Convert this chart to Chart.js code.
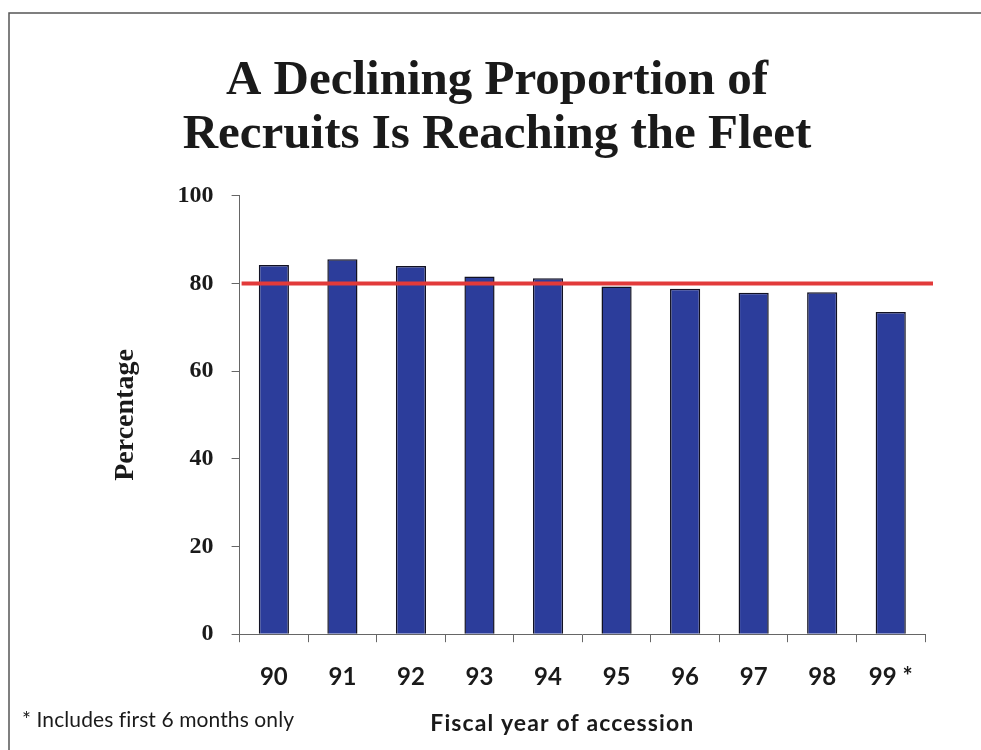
<!DOCTYPE html>
<html>
<head>
<meta charset="utf-8">
<title>A Declining Proportion of Recruits Is Reaching the Fleet</title>
<script src="https://cdn.jsdelivr.net/npm/chart.js@4.4.1/dist/chart.umd.min.js"></script>
<style>
  html, body { margin: 0; padding: 0; background: #ffffff; }
  canvas { display: block; }
</style>
</head>
<body>
<canvas id="chart" width="981" height="750"></canvas>
<script>
// Fiscal years of accession (FY99 covers the first six months only)
const fiscalYears = ['90', '91', '92', '93', '94', '95', '96', '97', '98', '99 *'];
// Percentage of recruits reaching the fleet
const reachingFleet = [84.2, 85.5, 84.0, 81.6, 81.2, 79.3, 78.8, 77.9, 78.0, 73.5];
// Reference level drawn as a red line across the plot
const benchmark = 80;
// Y axis range and step
const yMin = 0, yMax = 100, yStep = 20;

const titleLines = ['A Declining Proportion of', 'Recruits Is Reaching the Fleet'];
const yTitle = 'Percentage';
const xTitle = 'Fiscal year of accession';
const footnote = '* Includes first 6 months only';

const serif = "'Liberation Serif', 'Times New Roman', serif";
const sans = "Lato, 'Open Sans', sans-serif";

// Thin frame along the top and left edges of the page
const framePlugin = {
  id: 'frame',
  beforeDraw(chart) {
    const ctx = chart.ctx;
    ctx.save();
    ctx.fillStyle = '#ffffff';
    ctx.fillRect(0, 0, chart.width, chart.height);
    ctx.strokeStyle = '#555555';
    ctx.lineWidth = 1.5;
    ctx.beginPath();
    ctx.moveTo(chart.width, 13);
    ctx.lineTo(9, 13);
    ctx.lineTo(9, chart.height);
    ctx.stroke();
    ctx.restore();
  }
};

// Horizontal benchmark line drawn over the bars
const benchmarkPlugin = {
  id: 'benchmarkLine',
  afterDatasetsDraw(chart) {
    const { ctx, chartArea, scales } = chart;
    const y = scales.y.getPixelForValue(benchmark);
    ctx.save();
    ctx.strokeStyle = '#e23a3a';
    ctx.lineWidth = 4;
    ctx.beginPath();
    ctx.moveTo(chartArea.left + 2, y);
    ctx.lineTo(chartArea.right + 8, y);
    ctx.stroke();
    ctx.restore();
  }
};

// X axis title and footnote along the bottom edge
const bottomTextPlugin = {
  id: 'bottomText',
  afterDraw(chart) {
    const { ctx, chartArea } = chart;
    ctx.save();
    ctx.fillStyle = '#1a1a1a';
    ctx.textBaseline = 'alphabetic';
    ctx.font = 'bold 23px ' + sans;
    ctx.letterSpacing = '1.1px';
    ctx.textAlign = 'center';
    ctx.fillText(xTitle, (chartArea.left + chartArea.right) / 2 - 20, 731);
    ctx.font = '21px ' + sans;
    ctx.letterSpacing = '0.1px';
    ctx.textAlign = 'left';
    ctx.fillText(footnote, 22, 727);
    ctx.restore();
  }
};

new Chart(document.getElementById('chart'), {
  type: 'bar',
  data: {
    labels: fiscalYears,
    datasets: [{
      label: 'Reaching the fleet (%)',
      data: reachingFleet,
      backgroundColor: '#2c3d9b',
      borderColor: '#111122',
      borderWidth: 1.5,
      borderSkipped: 'bottom',
      categoryPercentage: 1.0,
      barPercentage: 0.44
    }]
  },
  options: {
    responsive: false,
    animation: false,
    layout: { padding: { left: 69, right: 56, top: 0, bottom: 37 } },
    plugins: {
      legend: { display: false },
      tooltip: { enabled: false },
      title: {
        display: true,
        text: titleLines,
        color: '#1a1a1a',
        font: { family: serif, size: 49, weight: 'bold', lineHeight: 1.1 },
        padding: { top: 54, bottom: 34 }
      }
    },
    scales: {
      x: {
        grid: {
          drawOnChartArea: false,
          drawTicks: true,
          tickLength: 8,
          color: '#666666',
          offset: true
        },
        border: { color: '#666666', width: 1 },
        ticks: {
          color: '#1a1a1a',
          padding: 21,
          font: { family: sans, size: 24, weight: 'bold' }
        }
      },
      y: {
        min: yMin,
        max: yMax,
        grid: {
          drawOnChartArea: false,
          drawTicks: true,
          tickLength: 8,
          color: '#666666'
        },
        border: { color: '#666666', width: 1 },
        ticks: {
          stepSize: yStep,
          color: '#1a1a1a',
          padding: 18,
          font: { family: serif, size: 24, weight: 'bold' }
        },
        title: {
          display: true,
          text: yTitle,
          color: '#1a1a1a',
          padding: { top: 40, bottom: 17 },
          font: { family: serif, size: 28, weight: 'bold' }
        }
      }
    }
  },
  plugins: [framePlugin, benchmarkPlugin, bottomTextPlugin]
});
</script>
</body>
</html>
